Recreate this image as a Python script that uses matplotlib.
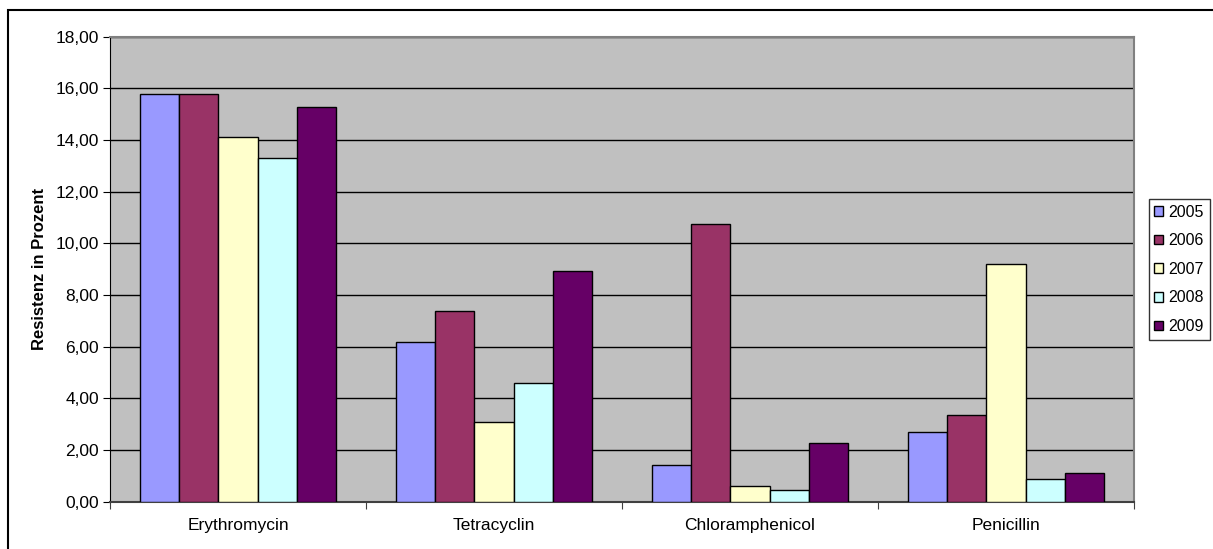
import numpy as np
import matplotlib.pyplot as plt
from matplotlib.patches import Rectangle
from matplotlib.ticker import FuncFormatter, MultipleLocator

plt.rcParams['font.family'] = ['Liberation Sans', 'DejaVu Sans']

antibiotics = ['Erythromycin', 'Tetracyclin', 'Chloramphenicol', 'Penicillin']
years = ['2005', '2006', '2007', '2008', '2009']
resistance = {
    '2005': [15.78, 6.18, 1.41, 2.70],
    '2006': [15.78, 7.39, 10.74, 3.35],
    '2007': [14.11, 3.06, 0.60, 9.19],
    '2008': [13.29, 4.57, 0.44, 0.88],
    '2009': [15.26, 8.94, 2.25, 1.10],
}
colors = ['#9999FF', '#993366', '#FFFFCC', '#CCFFFF', '#660066']

fig = plt.figure(figsize=(12.13, 5.49), dpi=100)
ax = fig.add_axes([0.0907, 0.0865, 0.8442, 0.8467])
ax.set_facecolor('#C0C0C0')

# clustered bars, 30% gap between categories
x = np.arange(len(antibiotics))
group = 1 / 1.3
w = group / len(years)
for i, (year, color) in enumerate(zip(years, colors)):
    ax.bar(x + (i - 2) * w, resistance[year], width=w, color=color,
           edgecolor='black', linewidth=1, label=year, zorder=3)

ax.set_xlim(-0.5, len(antibiotics) - 0.5)
ax.set_ylim(0, 18)
ax.yaxis.set_major_locator(MultipleLocator(2))
ax.yaxis.set_major_formatter(FuncFormatter(lambda v, p: f'{v:.2f}'.replace('.', ',')))
ax.yaxis.grid(True, color='black', linewidth=1)
ax.set_axisbelow(True)

ax.set_xticks(np.arange(-0.5, len(antibiotics), 1.0))
ax.set_xticklabels([])
ax.set_xticks(x, minor=True)
ax.set_xticklabels(antibiotics, minor=True, fontsize=12.5)
ax.tick_params(axis='x', which='minor', length=0, pad=12)
ax.tick_params(axis='x', which='major', direction='out', length=5, color='#404040')
ax.tick_params(axis='y', direction='out', length=5, labelsize=12.5, pad=3)

for side in ['top', 'right']:
    ax.spines[side].set_color('#808080')
    ax.spines[side].set_linewidth(1.5)
ax.spines['left'].set_color('black')
ax.spines['bottom'].set_color('#404040')
ax.spines['bottom'].set_linewidth(1.5)

ax.set_ylabel('Resistenz in Prozent', fontsize=12, fontweight='bold', labelpad=6)

leg = ax.legend(loc='upper left', bbox_to_anchor=(1.0143, 0.6505), fontsize=11.5,
                frameon=True, fancybox=False, edgecolor='black',
                handlelength=0.55, handleheight=0.55, handletextpad=0.35,
                labelspacing=0.85, borderpad=0.35, borderaxespad=0)
leg.get_frame().set_linewidth(1)

# outer chart border
fig.patches.append(Rectangle((8 / 1213, -0.05), 1.2, 1 - 10 / 549 + 0.05,
                             transform=fig.transFigure, fill=False,
                             edgecolor='black', linewidth=1.5))

fig.savefig('out.png', dpi=100)
